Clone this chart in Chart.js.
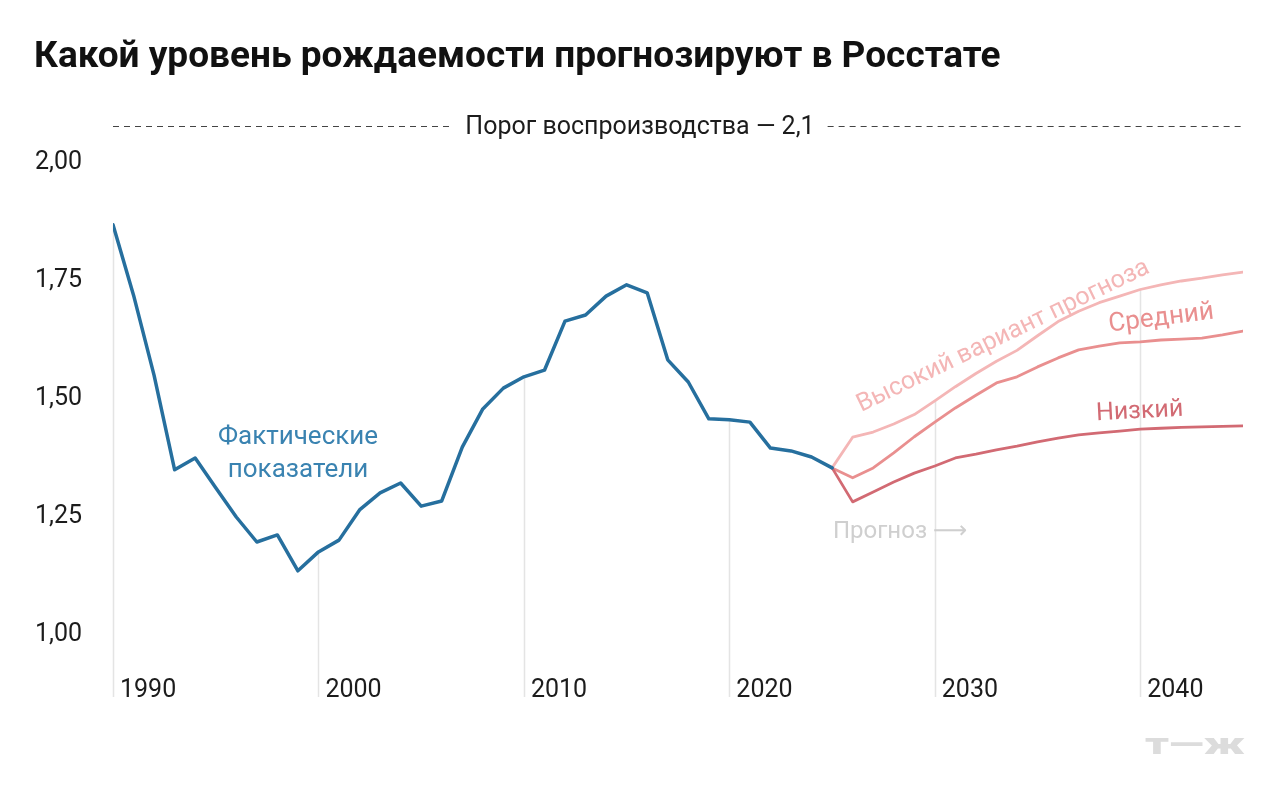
<!DOCTYPE html>
<html lang="ru">
<head>
<meta charset="utf-8">
<script src="https://cdn.jsdelivr.net/npm/chart.js@4.4.1/dist/chart.umd.min.js"></script>
<style>
  html, body { margin: 0; padding: 0; background: #fff; }
  #wrap { width: 1280px; height: 805px; }
</style>
</head>
<body>
<div id="wrap"><canvas id="chart" width="1280" height="805"></canvas></div>
<script>
const FONT = 'Roboto, "Noto Sans", "DejaVu Sans", sans-serif';

// Фактические показатели (СКР)
const factYears = [1990, 1991, 1992, 1993, 1994, 1995, 1996, 1997, 1998, 1999,
  2000, 2001, 2002, 2003, 2004, 2005, 2006, 2007, 2008, 2009,
  2010, 2011, 2012, 2013, 2014, 2015, 2016, 2017, 2018, 2019,
  2020, 2021, 2022, 2023, 2024, 2025];
const factValues = [1.869, 1.72, 1.55, 1.350, 1.375, 1.312, 1.250, 1.197, 1.212, 1.136,
  1.176, 1.201, 1.265, 1.301, 1.322, 1.273, 1.284, 1.398, 1.479, 1.523,
  1.547, 1.561, 1.665, 1.678, 1.718, 1.742, 1.725, 1.583, 1.536, 1.458,
  1.456, 1.451, 1.396, 1.390, 1.377, 1.354];

// Прогноз Росстата
const forecastYears = [2025, 2026, 2027, 2028, 2029, 2030, 2031, 2032, 2033, 2034,
  2035, 2036, 2037, 2038, 2039, 2040, 2041, 2042, 2043, 2044, 2045];
const highValues = [1.354, 1.419, 1.430, 1.447, 1.467, 1.496, 1.526, 1.554, 1.580, 1.603,
  1.634, 1.664, 1.686, 1.704, 1.718, 1.732, 1.742, 1.750, 1.756, 1.763, 1.769];
const midValues = [1.354, 1.333, 1.354, 1.386, 1.420, 1.451, 1.481, 1.508, 1.534, 1.547,
  1.568, 1.587, 1.604, 1.612, 1.619, 1.621, 1.625, 1.627, 1.629, 1.636, 1.644];
const lowValues = [1.354, 1.282, 1.303, 1.324, 1.343, 1.358, 1.375, 1.383, 1.392, 1.400,
  1.409, 1.417, 1.424, 1.428, 1.432, 1.436, 1.438, 1.440, 1.441, 1.442, 1.443];

// Оси
const yTicks = [1.00, 1.25, 1.50, 1.75, 2.00];
const xTickYears = [1990, 2000, 2010, 2020, 2030, 2040];

const COLORS = {
  fact: '#266f9e',
  factLabel: '#3a83b1',
  high: '#f4b6b6',
  mid: '#e98f8f',
  low: '#d26a73',
  grid: '#e4e4e4',
  text: '#1c1c1c',
  muted: '#cfcfcf',
  logo: '#dcdcdc'
};

function toPoints(years, values) {
  return years.map((yr, i) => ({ x: yr, y: values[i] }));
}

const series = [
  { years: factYears, values: factValues },
  { years: forecastYears, values: highValues },
  { years: forecastYears, values: midValues },
  { years: forecastYears, values: lowValues }
];

function topValueAt(year) {
  let top = null;
  series.forEach(s => {
    const i = s.years.indexOf(year);
    if (i >= 0 && (top === null || s.values[i] > top)) top = s.values[i];
  });
  return top;
}

function rotatedText(ctx, text, x, y, deg, color, size) {
  ctx.save();
  ctx.font = size + 'px ' + FONT;
  ctx.translate(x, y);
  ctx.rotate(deg * Math.PI / 180);
  ctx.fillStyle = color;
  ctx.fillText(text, 0, 0);
  ctx.restore();
}

const decorPlugin = {
  id: 'decor',
  beforeDatasetsDraw(chart) {
    const { ctx, chartArea, scales: { x, y } } = chart;
    ctx.save();
    // вертикальные линии от графика вниз
    ctx.strokeStyle = COLORS.grid;
    ctx.lineWidth = 1.5;
    xTickYears.forEach(yr => {
      const px = Math.round(x.getPixelForValue(yr)) + 0.5;
      const top = topValueAt(yr);
      ctx.beginPath();
      ctx.moveTo(px, y.getPixelForValue(top));
      ctx.lineTo(px, chartArea.bottom);
      ctx.stroke();
    });
    // подписи лет
    ctx.fillStyle = COLORS.text;
    ctx.font = '25px ' + FONT;
    ctx.textAlign = 'left';
    ctx.textBaseline = 'alphabetic';
    xTickYears.forEach(yr => {
      ctx.fillText(String(yr), x.getPixelForValue(yr) + 7, 697);
    });
    ctx.restore();
  },
  afterDraw(chart) {
    const { ctx, chartArea } = chart;
    ctx.save();

    // заголовок
    ctx.fillStyle = '#111';
    ctx.font = 'bold 37px ' + FONT;
    ctx.textAlign = 'left';
    ctx.textBaseline = 'alphabetic';
    ctx.fillText('Какой уровень рождаемости прогнозируют в Росстате', 34, 67);

    // порог воспроизводства
    const label = 'Порог воспроизводства — 2,1';
    ctx.font = '25px ' + FONT;
    const w = ctx.measureText(label).width;
    const cx = 640;
    ctx.textAlign = 'center';
    ctx.fillStyle = COLORS.text;
    ctx.fillText(label, cx, 134);
    ctx.strokeStyle = '#444';
    ctx.lineWidth = 1;
    ctx.setLineDash([6, 5]);
    ctx.beginPath();
    ctx.moveTo(chartArea.left, 126.5);
    ctx.lineTo(cx - w / 2 - 13, 126.5);
    ctx.moveTo(cx + w / 2 + 13, 126.5);
    ctx.lineTo(chartArea.right, 126.5);
    ctx.stroke();
    ctx.setLineDash([]);

    // подписи линий
    ctx.font = '26px ' + FONT;
    ctx.textAlign = 'center';
    ctx.fillStyle = COLORS.factLabel;
    ctx.fillText('Фактические', 298, 444);
    ctx.fillText('показатели', 298, 477);

    ctx.font = '24px ' + FONT;
    ctx.textAlign = 'left';
    ctx.fillStyle = COLORS.muted;
    ctx.fillText('Прогноз ⟶', 833, 538);

    ctx.textAlign = 'center';
    rotatedText(ctx, 'Высокий вариант прогноза', 1006, 342, -25.8, COLORS.high, 25);
    rotatedText(ctx, 'Средний', 1162, 325, -7, COLORS.mid, 26);
    rotatedText(ctx, 'Низкий', 1140, 418, -3, COLORS.low, 25);

    // логотип
    ctx.font = '900 30px ' + FONT;
    ctx.fillStyle = COLORS.logo;
    ctx.textAlign = 'left';
    const logo = 'т—ж';
    const lw = ctx.measureText(logo).width;
    ctx.translate(1145, 754);
    ctx.scale(100 / lw, 1);
    ctx.fillText(logo, 0, 0);

    ctx.restore();
  }
};

const lineStyle = (color, width) => ({
  borderColor: color,
  borderWidth: width,
  pointRadius: 0,
  pointHoverRadius: 0,
  tension: 0,
  fill: false,
  borderJoinStyle: 'round',
  borderCapStyle: 'round'
});

new Chart(document.getElementById('chart'), {
  type: 'line',
  data: {
    datasets: [
      { label: 'Фактические показатели', data: toPoints(factYears, factValues), ...lineStyle(COLORS.fact, 3.5) },
      { label: 'Низкий', data: toPoints(forecastYears, lowValues), ...lineStyle(COLORS.low, 2.8) },
      { label: 'Средний', data: toPoints(forecastYears, midValues), ...lineStyle(COLORS.mid, 2.8) },
      { label: 'Высокий вариант прогноза', data: toPoints(forecastYears, highValues), ...lineStyle(COLORS.high, 2.8) }
    ]
  },
  options: {
    responsive: false,
    animation: false,
    devicePixelRatio: 1,
    layout: { padding: { left: 35, top: 163, right: 37, bottom: 108 } },
    plugins: {
      legend: { display: false },
      tooltip: { enabled: false },
      title: { display: false }
    },
    scales: {
      x: {
        type: 'linear',
        min: 1990,
        max: 2045,
        display: false
      },
      y: {
        min: 0.8686,
        max: 2.0,
        afterBuildTicks: (scale) => { scale.ticks = yTicks.map(v => ({ value: v })); },
        afterFit: (scale) => { scale.width = 78; },
        grid: { display: false },
        border: { display: false },
        ticks: {
          crossAlign: 'far',
          padding: 0,
          color: COLORS.text,
          font: { family: FONT, size: 25 },
          callback: (v) => v.toFixed(2).replace('.', ',')
        }
      }
    }
  },
  plugins: [decorPlugin]
});
</script>
</body>
</html>
